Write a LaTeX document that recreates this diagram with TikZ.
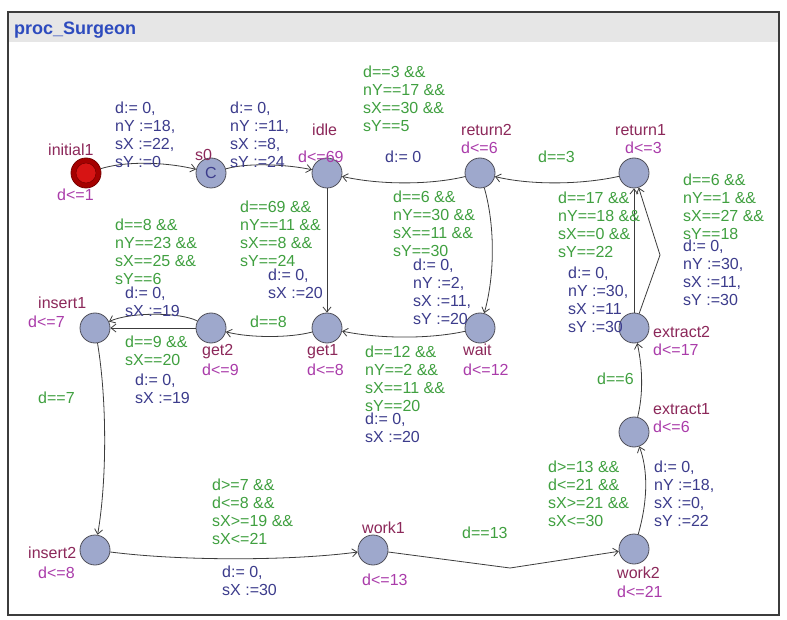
\documentclass[tikz,border=0pt]{standalone}
\usepackage{fontspec}
\setmainfont{Liberation Sans}
\usetikzlibrary{arrows.meta}
\definecolor{guardc}{RGB}{64,160,64}
\definecolor{updc}{RGB}{60,60,140}
\definecolor{invc}{RGB}{170,60,170}
\definecolor{namec}{RGB}{140,40,90}
\definecolor{locfill}{RGB}{158,168,204}
\definecolor{locdraw}{RGB}{80,80,90}
\definecolor{titlec}{RGB}{45,75,190}
\definecolor{bandc}{RGB}{230,230,230}
\definecolor{framec}{RGB}{60,60,60}
\definecolor{initout}{RGB}{165,0,0}
\definecolor{initin}{RGB}{215,20,20}
\definecolor{initring}{RGB}{120,0,0}
\definecolor{edgec}{RGB}{60,60,60}
\begin{document}
\begin{tikzpicture}[x=1pt,y=-1pt,
  loc/.style={circle,draw=locdraw,fill=locfill,line width=0.8pt,minimum size=30pt,inner sep=0},
  initloc/.style={circle,draw=initring,fill=initout,line width=0.8pt,minimum size=30pt,inner sep=0,
    path picture={\fill[initin,draw=initring,line width=0.5pt] (path picture bounding box.center) circle (10pt);}},
  edge/.style={draw=edgec,line width=0.8pt,-{Straight Barb[length=5pt,width=8pt]}},
  lbl/.style={anchor=north west,inner sep=0,align=left,font=\fontsize{16}{17.8}\selectfont},
  guard/.style={lbl,text=guardc},
  upd/.style={lbl,text=updc},
  nm/.style={anchor=west,inner sep=0,font=\fontsize{16}{17.8}\selectfont,text=namec},
  inv/.style={nm,text=invc}]
\useasboundingbox (0,0) rectangle (787,620);
\fill[white] (0,0) rectangle (787,620);
% window frame and title band
\fill[bandc] (8,12) rectangle (779,42);
\draw[framec,line width=1.2pt] (8,12) rectangle (779,615);
\node[anchor=west,inner sep=0,font=\bfseries\fontsize{18}{20}\selectfont,text=titlec] (title) at (14,30) {proc\_Surgeon};

% locations
\node[initloc] (init) at (86,173) {};
\node[loc] (s0) at (211,173) {\fontsize{16}{16}\selectfont\color{updc}C};
\node[loc] (idle) at (327,173) {};
\node[loc] (ret2) at (480,173) {};
\node[loc] (ret1) at (634,173) {};
\node[loc] (ins1) at (95,328) {};
\node[loc] (get2) at (211,328) {};
\node[loc] (get1) at (327,328) {};
\node[loc] (wait) at (480,328) {};
\node[loc] (ext2) at (634,328) {};
\node[loc] (ext1) at (634,432) {};
\node[loc] (ins2) at (95,550) {};
\node[loc] (work1) at (373,550) {};
\node[loc] (work2) at (634,549) {};

% location names and invariants
\node[nm] (n-init) at (48,150) {initial1};
\node[inv] (i-init) at (57,195) {d<=1};
\node[nm] (n-s0) at (195,155) {s0};
\node[nm] (n-idle) at (312,130) {idle};
\node[inv] (i-idle) at (298,157) {d<=69};
\node[nm] (n-ret2) at (461,130) {return2};
\node[inv] (i-ret2) at (461,148) {d<=6};
\node[nm] (n-ret1) at (615,130) {return1};
\node[inv] (i-ret1) at (625,148) {d<=3};
\node[nm] (n-ins1) at (38,303) {insert1};
\node[inv] (i-ins1) at (28,322) {d<=7};
\node[nm] (n-get2) at (202,352) {get2};
\node[inv] (i-get2) at (202,370) {d<=9};
\node[nm] (n-get1) at (307,352) {get1};
\node[inv] (i-get1) at (307,370) {d<=8};
\node[nm] (n-wait) at (463,350) {wait};
\node[inv] (i-wait) at (463,370) {d<=12};
\node[nm] (n-ext2) at (653,332) {extract2};
\node[inv] (i-ext2) at (653,350) {d<=17};
\node[nm] (n-ext1) at (653,409) {extract1};
\node[inv] (i-ext1) at (653,427) {d<=6};
\node[nm] (n-ins2) at (28,553) {insert2};
\node[inv] (i-ins2) at (38,573) {d<=8};
\node[nm] (n-work1) at (362,528) {work1};
\node[inv] (i-work1) at (362,580) {d<=13};
\node[nm] (n-work2) at (617,573) {work2};
\node[inv] (i-work2) at (617,592) {d<=21};

% nails of the polyline edges
\coordinate (nail-w) at (510,568);
\coordinate (nail-e) at (660,255);

% edges
\draw[edge] (init) .. controls (130,160) and (170,163) .. (s0);
\draw[edge] (s0) .. controls (250,162) and (290,165) .. (idle);
\draw[edge] (ret2) .. controls (430,185) and (380,185) .. (idle);
\draw[edge] (ret1) .. controls (580,185) and (530,185) .. (ret2);
\draw[edge] (ret2) .. controls (495,225) and (495,275) .. (wait);
\draw[edge] (idle) -- (get1);
\draw[edge] (wait) .. controls (430,339) and (380,339) .. (get1);
\draw[edge] (get1) .. controls (290,338) and (250,338) .. (get2);
\draw[edge] (get2) -- (ins1);
\draw[edge] (get2) .. controls (180,312) and (130,312) .. (ins1);
\draw[edge] (ins1) .. controls (107,400) and (107,480) .. (ins2);
\draw[edge] (ins2) .. controls (180,561) and (290,561) .. (work1);
\draw[edge] (work1) -- (nail-w) -- (work2);
\draw[edge] (work2) .. controls (648,500) and (648,470) .. (ext1);
\draw[edge] (ext1) .. controls (643,395) and (643,370) .. (ext2);
\draw[edge] (ext2) -- (ret1);
\draw[edge] (ext2) -- (nail-e) -- (ret1);

% edge labels
\node[upd] (u1) at (115,102) {d:= 0,\\nY :=18,\\sX :=22,\\sY :=0};
\node[upd] (u2) at (230,102) {d:= 0,\\nY :=11,\\sX :=8,\\sY :=24};
\node[guard] (g3) at (363,66) {d==3 \&\&\\nY==17 \&\&\\sX==30 \&\&\\sY==5};
\node[upd] (u3) at (385,151) {d:= 0};
\node[guard] (g4) at (538,151) {d==3};
\node[guard] (g5) at (393,191) {d==6 \&\&\\nY==30 \&\&\\sX==11 \&\&\\sY==30};
\node[upd] (u5) at (413,259) {d:= 0,\\nY :=2,\\sX :=11,\\sY :=20};
\node[guard] (g6) at (240,201) {d==69 \&\&\\nY==11 \&\&\\sX==8 \&\&\\sY==24};
\node[upd] (u6) at (268,269) {d:= 0,\\sX :=20};
\node[guard] (g7) at (365,346) {d==12 \&\&\\nY==2 \&\&\\sX==11 \&\&\\sY==20};
\node[upd] (u7) at (365,413) {d:= 0,\\sX :=20};
\node[guard] (g8) at (250,316) {d==8};
\node[guard] (g9) at (115,219) {d==8 \&\&\\nY==23 \&\&\\sX==25 \&\&\\sY==6};
\node[upd] (u9) at (125,287) {d:= 0,\\sX :=19};
\node[guard] (g10) at (125,336) {d==9 \&\&\\sX==20};
\node[upd] (u10) at (135,374) {d:= 0,\\sX :=19};
\node[guard] (g11) at (38,392) {d==7};
\node[guard] (g12) at (212,479) {d>=7 \&\&\\d<=8 \&\&\\sX>=19 \&\&\\sX<=21};
\node[upd] (u12) at (222,566) {d:= 0,\\sX :=30};
\node[guard] (g13) at (462,527) {d==13};
\node[guard] (g14) at (548,461) {d>=13 \&\&\\d<=21 \&\&\\sX>=21 \&\&\\sX<=30};
\node[upd] (u14) at (654,461) {d:= 0,\\nY :=18,\\sX :=0,\\sY :=22};
\node[guard] (g15) at (597,373) {d==6};
\node[guard] (g16) at (558,192) {d==17 \&\&\\nY==18 \&\&\\sX==0 \&\&\\sY==22};
\node[upd] (u16) at (568,267) {d:= 0,\\nY :=30,\\sX :=11\\sY :=30};
\node[guard] (g17) at (683,174) {d==6 \&\&\\nY==1 \&\&\\sX==27 \&\&\\sY==18};
\node[upd] (u17) at (683,240) {d:= 0,\\nY :=30,\\sX :=11,\\sY :=30};
\end{tikzpicture}
\end{document}
